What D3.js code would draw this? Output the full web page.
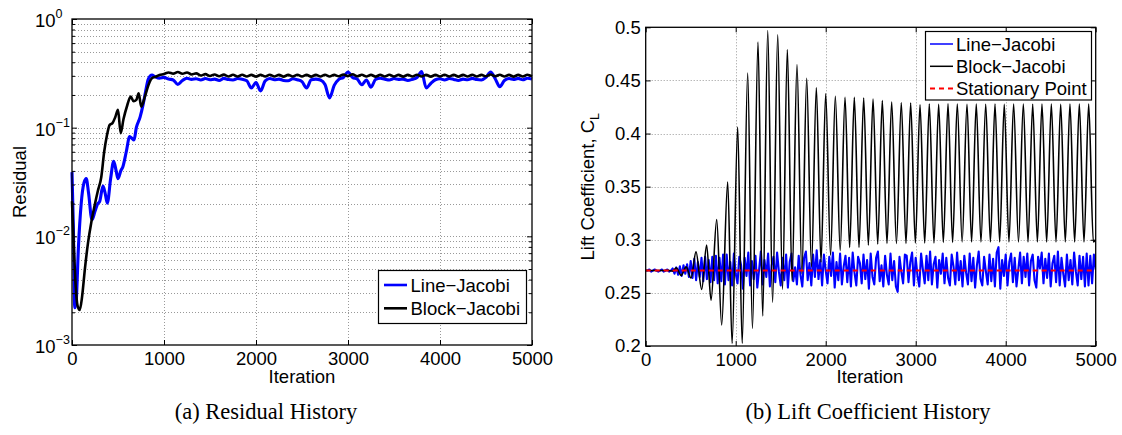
<!DOCTYPE html>
<html>
<head>
<meta charset="utf-8">
<script src="https://cdn.jsdelivr.net/npm/d3@7"></script>
<style>
body { margin: 0; background: #fff; }
svg text { font-family: "Liberation Sans", Arial, sans-serif; fill: #000; }
</style>
</head>
<body>
<script>
// ---- tick labels / categories
const iterTicks = [0, 1000, 2000, 3000, 4000, 5000];
const resYTicks = [1e-3, 1e-2, 1e-1, 1];
const resYExps = ["\u22123", "\u22122", "\u22121", "0"];
const clYTicks = [0.2, 0.25, 0.3, 0.35, 0.4, 0.45, 0.5];
const seriesNames = ["Line\u2212Jacobi", "Block\u2212Jacobi", "Stationary Point"];

// ---- (a) residual history, start-up transient
const resLineIterEarly = [0,15,30,45,70,100,130,155,180,217,250,280,301,337,360,384,420,453,480,500,530,554,590,627,650,674,699,740,772,800,826,850,870];
const resLineEarly = [0.039,0.012,0.0022,0.0025,0.008,0.020,0.031,0.034,0.025,0.0142,0.017,0.020,0.021,0.029,0.025,0.0202,0.034,0.049,0.040,0.034,0.040,0.044,0.060,0.083,0.080,0.077,0.100,0.125,0.162,0.215,0.275,0.300,0.305];
const resBlockIterEarly = [0,20,40,60,84,110,140,174,210,247,280,318,350,380,410,440,470,500,529,560,600,638,670,699,725,753,790,830,855,880];
const resBlockEarly = [0.021,0.008,0.0035,0.0023,0.0021,0.0028,0.005,0.0087,0.0135,0.0194,0.026,0.035,0.06,0.085,0.106,0.11,0.125,0.146,0.089,0.12,0.16,0.193,0.175,0.18,0.207,0.156,0.19,0.245,0.275,0.29];

// ---- (a) plateau, every 50 iterations from 900 to 5000
const resLinePlateau = [
  .295,.285,.29,.28,.275,.25,.272,.285,.278,.282,
  .275,.283,.276,.28,.272,.284,.277,.275,.283,.279,
  .27,.232,.26,.218,.27,.283,.276,.28,.272,.27,
  .282,.276,.265,.232,.276,.28,.275,.25,.188,.245,
  .278,.29,.325,.29,.28,.248,.275,.236,.278,.285,
  .279,.275,.283,.278,.28,.272,.279,.29,.328,.232,
  .255,.276,.282,.275,.283,.278,.272,.28,.276,.284,
  .277,.275,.29,.325,.282,.238,.272,.283,.278,.284,
  .276,.285,.28];
const resBlockPlateau = [
  .292,.305,.312,.322,.314,.325,.313,.322,.309,.316,
  .302,.311,.299,.309,.297,.308,.296,.307,.296,.307,
  .296,.306,.295,.306,.296,.307,.296,.306,.295,.306,
  .296,.307,.296,.306,.295,.306,.296,.307,.296,.306,
  .297,.309,.298,.31,.297,.307,.296,.306,.295,.306,
  .296,.307,.296,.306,.295,.306,.296,.307,.296,.306,
  .295,.306,.296,.307,.296,.306,.295,.306,.296,.307,
  .296,.306,.297,.309,.297,.307,.296,.306,.295,.306,
  .296,.307,.298];

// ---- (b) lift coefficient, Block-Jacobi turning points
const clBlockIter = [
  0,150,250,300,339,394,449,504,559,622,
  677,726,789,844,911,960,1022,1072,1133,1186,
  1248,1300,1356,1410,1467,1520,1574,1626,1681,1735,
  1789,1842,1896,1948,2000,2054,2107,2161,2215,2266,
  2318,2370,2422,2474,2526,2578,2629,2681,2733,2786,
  2840,2892,2944,2996,3048,3100,3151,3203,3255,3307,
  3359,3410,3462,3516,3570,3621,3673,3725,3778,3830,
  3881,3933,3984,4036,4088,4142,4196,4248,4300,4352,
  4403,4455,4507,4559,4611,4662,4714,4766,4818,4870,
  4922,4974,5000];
const clBlock = [
  .271,.271,.2712,.2705,.2735,.2665,.2745,.264,.2886,.2533,
  .295,.2432,.319,.2197,.3544,.2025,.406,.2025,.457,.2166,
  .486,.2282,.497,.241,.493,.2533,.479,.2614,.465,.2683,
  .452,.2745,.443,.279,.4375,.2855,.435,.29,.434,.2928,
  .434,.2928,.4335,.295,.4325,.296,.431,.2965,.4296,.2965,
  .429,.2965,.4288,.297,.427,.297,.4278,.297,.4275,.2975,
  .428,.2975,.4277,.298,.4275,.298,.4278,.298,.4276,.298,
  .4278,.298,.4275,.298,.4277,.298,.4278,.298,.4276,.298,
  .4277,.298,.4278,.298,.4275,.298,.4277,.298,.4278,.298,
  .4277,.298,.30];

// ---- (b) lift coefficient, Line-Jacobi every 20 iterations
const clLine = [
  .271,.271,.272,.270,.271,.272,.271,.270,.271,.272,.270,.271,.272,.270,.271,
  .273,.268,.274,.267,.275,.266,.276,.268,.277,.265,
  .280,.264,.282,.262,.279,.265,.283,.261,.284,.263,.281,.260,.284,.262,.285,.259,.283,.261,.286,.258,
  .286,.262,.279,.257,.287,.268,.259,.284,.276,.254,.283,.266,.288,.257,.280,.263,.285,.255,.272,.289,
  .258,.281,.265,.287,.256,.276,.284,.260,.288,.270,.257,.283,.262,.286,.255,.279,.287,.261,.274,.258,
  .285,.267,.256,.283,.289,.262,.278,.257,.286,.265,
  .290,.263,.281,.257,.286,.271,.259,.284,.266,.288,.255,.279,.262,.287,.258,.275,.285,.260,.283,.256,
  .288,.269,.257,.284,.278,.259,.286,.263,.281,.254,.287,.265,.258,.283,.289,.261,.276,.256,.285,.267,
  .258,.287,.262,.280,.256,.251,.284,.270,.259,.286,
  .285,.260,.279,.288,.257,.283,.266,.256,.287,.272,.259,.285,.262,.289,.258,.277,.284,.255,.281,.268,
  .287,.259,.283,.264,.257,.286,.275,.258,.288,.262,.280,.256,.285,.269,.258,.287,.261,.283,.255,.276,
  .289,.263,.257,.284,.270,.258,.286,.261,.282,.256,
  .288,.293,.254,.281,.266,.286,.257,.279,.287,.260,.283,.256,.272,.288,.259,.284,.265,.287,.257,.280,
  .286,.262,.255,.284,.273,.288,.259,.282,.264,.287,.256,.278,.285,.260,.289,.257,.283,.268,.256,.286,
  .262,.281,.258,.288,.270,.257,.285,.263,.284,.256,
  .287,.257,.285,.259,.286,.272];
const stationaryCl = 0.271;

const blue = "#0000ff", red = "#ff0000", fontSize = 18.5;

const svg = d3.select("body").append("svg")
    .attr("width", 1122)
    .attr("height", 435);

// ---------- scales
const resX = d3.scaleLinear().domain([0, 5000]).range([72, 532]);
const resY = d3.scaleLog().domain([1e-3, 1]).range([345, 19]);
const clX = d3.scaleLinear().domain([0, 5000]).range([645.7, 1095.7]);
const clY = d3.scaleLinear().domain([0.2, 0.5]).range([346, 27.3]);

function styleAxis(g) {
    g.select(".domain").remove();
    g.attr("font-family", null).attr("font-size", null);
    g.selectAll("line").attr("stroke", "#000");
    g.selectAll("text").style("font-size", fontSize + "px");
}

function gridLines(x, y, xVals, yVals, cls) {
    const [x0, x1] = x.range(), [y0, y1] = y.range();
    const g = svg.append("g").attr("class", cls)
        .attr("stroke", "#999").attr("stroke-width", 1).attr("stroke-dasharray", "1,2");
    g.selectAll("line.v").data(xVals).enter().append("line")
        .attr("x1", (d) => Math.round(x(d)) + 0.5).attr("x2", (d) => Math.round(x(d)) + 0.5)
        .attr("y1", y1).attr("y2", y0);
    g.selectAll("line.h").data(yVals).enter().append("line")
        .attr("y1", (d) => Math.round(y(d)) + 0.5).attr("y2", (d) => Math.round(y(d)) + 0.5)
        .attr("x1", x0).attr("x2", x1);
}

function frame(x, y, yTicks, yMinor, yFormat) {
    const [x0, x1] = x.range(), [y0, y1] = y.range();
    // bottom axis with labels
    svg.append("g").attr("transform", "translate(0," + y0 + ")")
        .call(d3.axisBottom(x).tickValues(iterTicks).tickSize(-5).tickPadding(7).tickFormat(d3.format("d")))
        .call(styleAxis);
    svg.append("g").attr("transform", "translate(0," + y1 + ")")
        .call(d3.axisTop(x).tickValues(iterTicks).tickSize(-5).tickFormat(""))
        .call(styleAxis);
    const left = svg.append("g").attr("transform", "translate(" + x0 + ",0)")
        .call(d3.axisLeft(y).tickValues(yTicks).tickSize(-5).tickPadding(5).tickFormat(yFormat || ""))
        .call(styleAxis);
    svg.append("g").attr("transform", "translate(" + x1 + ",0)")
        .call(d3.axisRight(y).tickValues(yTicks).tickSize(-5).tickFormat(""))
        .call(styleAxis);
    if (yMinor) {
        svg.append("g").attr("transform", "translate(" + x0 + ",0)")
            .call(d3.axisLeft(y).tickValues(yMinor).tickSize(-3).tickFormat(""))
            .call(styleAxis);
        svg.append("g").attr("transform", "translate(" + x1 + ",0)")
            .call(d3.axisRight(y).tickValues(yMinor).tickSize(-3).tickFormat(""))
            .call(styleAxis);
    }
    svg.append("rect")
        .attr("x", x0).attr("y", y1)
        .attr("width", x1 - x0).attr("height", y0 - y1)
        .attr("fill", "none").attr("stroke", "#000").attr("stroke-width", 1.3);
    return left;
}

// ================= (a) Residual History =================
const resMinor = [];
[1e-3, 1e-2, 1e-1].forEach((p) => { for (let k = 2; k <= 9; k++) resMinor.push(p * k); });

gridLines(resX, resY, iterTicks.slice(1, -1), resYTicks.slice(1, -1).concat(resMinor), "grid-a");

const resLineData = resLineIterEarly.map((it, i) => ({ it: it, v: resLineEarly[i] }))
    .concat(resLinePlateau.map((v, i) => ({ it: 900 + i * 50, v: v })));
const resBlockData = resBlockIterEarly.map((it, i) => ({ it: it, v: resBlockEarly[i] }))
    .concat(resBlockPlateau.map((v, i) => ({ it: 900 + i * 50, v: v })));

const resPath = d3.line().x((d) => resX(d.it)).y((d) => resY(d.v)).curve(d3.curveMonotoneX);

svg.append("path").datum(resLineData)
    .attr("d", resPath).attr("fill", "none")
    .attr("stroke", blue).attr("stroke-width", 3.1).attr("stroke-linejoin", "round");
svg.append("path").datum(resBlockData)
    .attr("d", resPath).attr("fill", "none")
    .attr("stroke", "#000").attr("stroke-width", 2.6).attr("stroke-linejoin", "round");

frame(resX, resY, resYTicks, resMinor, null);

// 10^k labels
const resLabels = svg.append("g");
resYTicks.forEach((v, i) => {
    const t = resLabels.append("text")
        .attr("x", 35).attr("y", resY(v) + 8)
        .style("font-size", fontSize + "px");
    t.append("tspan").text("10");
    t.append("tspan").attr("dy", -9).style("font-size", "12.5px").text(resYExps[i]);
});

svg.append("text")
    .attr("x", 302).attr("y", 383)
    .attr("text-anchor", "middle").style("font-size", fontSize + "px")
    .text("Iteration");
svg.append("text")
    .attr("transform", "translate(26,182) rotate(-90)")
    .attr("text-anchor", "middle").style("font-size", fontSize + "px")
    .text("Residual");

// legend (a)
const legA = svg.append("g").attr("transform", "translate(378.5,270.5)");
legA.append("rect").attr("width", 148).attr("height", 53)
    .attr("fill", "#fff").attr("stroke", "#000").attr("stroke-width", 1.2);
[[seriesNames[0], blue], [seriesNames[1], "#000"]].forEach((d, i) => {
    const yy = 14.5 + i * 23.3;
    legA.append("line").attr("x1", 5.5).attr("x2", 28.5).attr("y1", yy).attr("y2", yy)
        .attr("stroke", d[1]).attr("stroke-width", 2.6);
    legA.append("text").attr("x", 32).attr("y", yy + 6.5)
        .style("font-size", fontSize + "px").text(d[0]);
});

// ================= (b) Lift Coefficient History =================
gridLines(clX, clY, iterTicks.slice(1, -1), clYTicks.slice(1, -1), "grid-b");

svg.append("clipPath").attr("id", "clip-b").append("rect")
    .attr("x", clX.range()[0]).attr("y", clY.range()[1])
    .attr("width", clX.range()[1] - clX.range()[0]).attr("height", clY.range()[0] - clY.range()[1]);

const plotB = svg.append("g").attr("clip-path", "url(#clip-b)");
const clStep = 5000 / (clLine.length - 1);

plotB.append("path").datum(clLine)
    .attr("d", d3.line().x((d, i) => clX(i * clStep)).y((d) => clY(d)))
    .attr("fill", "none").attr("stroke", blue).attr("stroke-width", 2.1)
    .attr("stroke-linejoin", "round");

plotB.append("path").datum(clBlockIter.map((it, i) => ({ it: it, v: clBlock[i] })))
    .attr("d", d3.line().x((d) => clX(d.it)).y((d) => clY(d.v)).curve(d3.curveMonotoneX))
    .attr("fill", "none").attr("stroke", "#000").attr("stroke-width", 1.6)
    .attr("stroke-linejoin", "round");

plotB.append("line")
    .attr("x1", clX(0)).attr("x2", clX(5000))
    .attr("y1", clY(stationaryCl)).attr("y2", clY(stationaryCl))
    .attr("stroke", red).attr("stroke-width", 2).attr("stroke-dasharray", "5,4");

frame(clX, clY, clYTicks, null, (d) => String(d));

svg.append("text")
    .attr("x", 870).attr("y", 383)
    .attr("text-anchor", "middle").style("font-size", fontSize + "px")
    .text("Iteration");
const ylab = svg.append("text")
    .attr("transform", "translate(594,186.7) rotate(-90)")
    .attr("text-anchor", "middle").style("font-size", fontSize + "px");
ylab.append("tspan").text("Lift Coefficient, C");
ylab.append("tspan").attr("dy", 5).style("font-size", "12.5px").text("L");

// legend (b)
const legB = svg.append("g").attr("transform", "translate(925.5,31.5)");
legB.append("rect").attr("width", 166).attr("height", 68.5)
    .attr("fill", "#fff").attr("stroke", "#000").attr("stroke-width", 1.2);
[[seriesNames[0], blue, null], [seriesNames[1], "#000", null], [seriesNames[2], red, "5,4"]].forEach((d, i) => {
    const yy = 12.5 + i * 22.3;
    legB.append("line").attr("x1", 4.5).attr("x2", 27.5).attr("y1", yy).attr("y2", yy)
        .attr("stroke", d[1]).attr("stroke-width", d[2] ? 2 : 1.5)
        .attr("stroke-dasharray", d[2]);
    legB.append("text").attr("x", 30.5).attr("y", yy + 6.5)
        .style("font-size", fontSize + "px").text(d[0]);
});

// ---------- captions
svg.selectAll("text.caption")
    .data([["(a) Residual History", 266], ["(b) Lift Coefficient History", 868]])
    .enter().append("text")
    .attr("class", "caption")
    .attr("x", (d) => d[1]).attr("y", 419)
    .attr("text-anchor", "middle")
    .style("font-family", "'Liberation Serif', 'Times New Roman', serif")
    .style("font-size", "22.5px")
    .text((d) => d[0]);
</script>
</body>
</html>
